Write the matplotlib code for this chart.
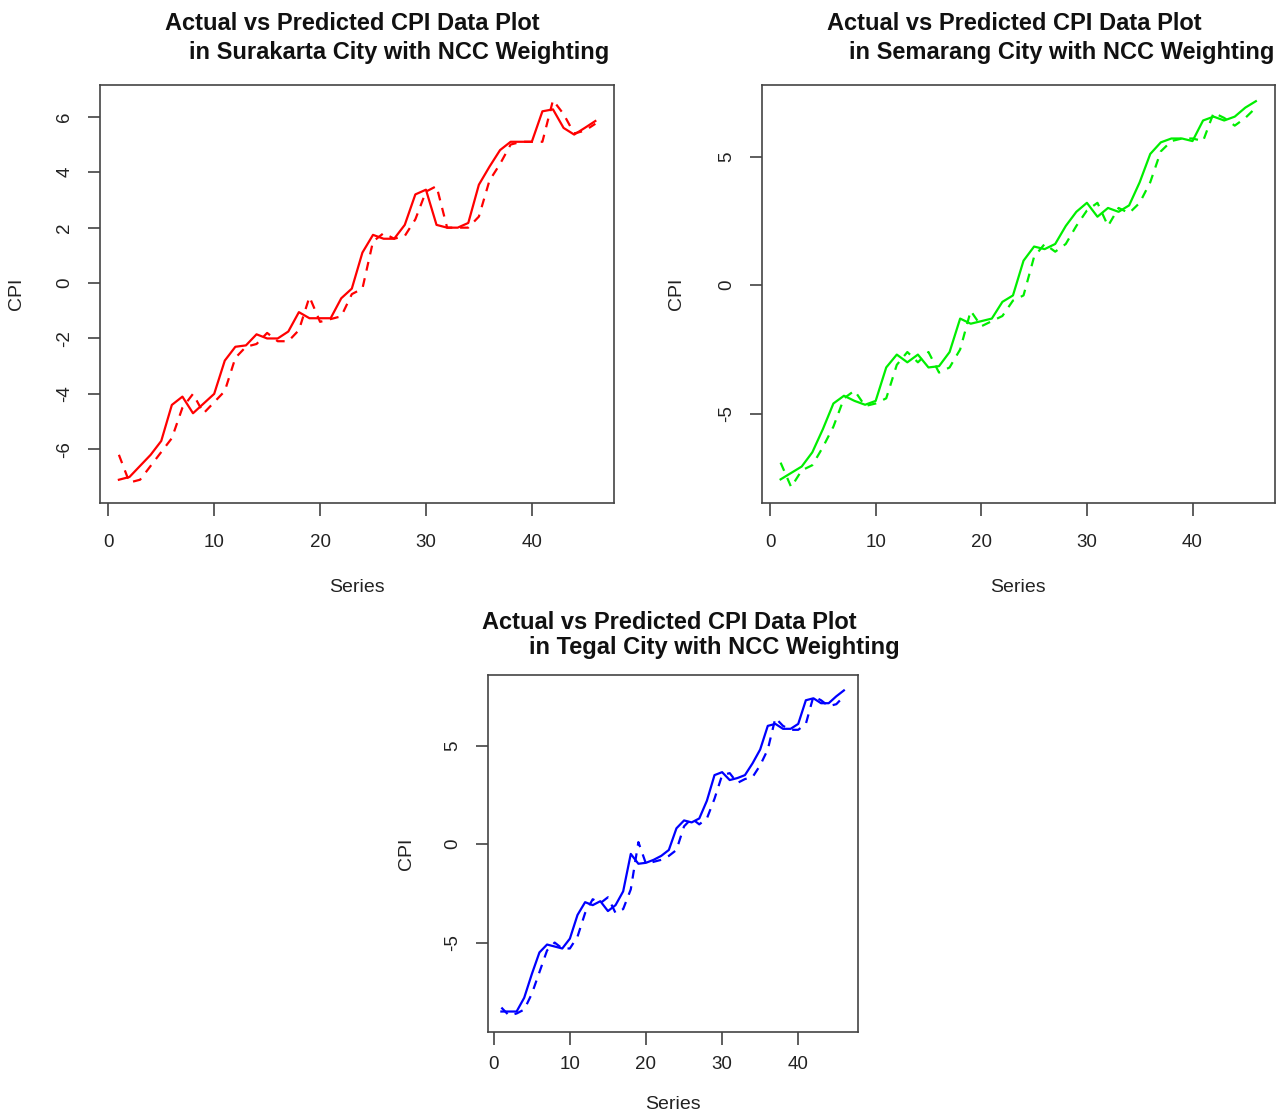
import matplotlib
matplotlib.use("Agg")
import matplotlib.pyplot as plt
import numpy as np

plt.rcParams["font.family"] = ["Liberation Sans", "DejaVu Sans"]

series = np.arange(1, 47)

surakarta_actual = [-7.1, -7.0, -6.6, -6.2, -5.7, -4.4, -4.1, -4.7, -4.35, -4.0,
                    -2.8, -2.3, -2.25, -1.85, -2.0, -2.0, -1.75, -1.05, -1.27, -1.27,
                    -1.27, -0.55, -0.2, 1.1, 1.74, 1.6, 1.6, 2.1, 3.2, 3.37,
                    2.1, 2.0, 2.0, 2.17, 3.55, 4.2, 4.8, 5.1, 5.1, 5.1,
                    6.2, 6.27, 5.6, 5.36, 5.6, 5.85]
surakarta_pred = [-6.2, -7.2, -7.1, -6.6, -6.1, -5.6, -4.5, -4.0, -4.7, -4.3,
                  -3.9, -2.7, -2.3, -2.2, -1.8, -2.1, -2.1, -1.7, -0.5, -1.4,
                  -1.3, -1.2, -0.4, -0.2, 1.5, 1.8, 1.6, 1.7, 2.3, 3.3,
                  3.5, 2.0, 2.0, 2.0, 2.4, 3.7, 4.3, 5.0, 5.1, 5.1,
                  5.1, 6.6, 6.1, 5.4, 5.5, 5.75]

semarang_actual = [-7.55, -7.3, -7.05, -6.5, -5.6, -4.6, -4.3, -4.5, -4.65, -4.5,
                   -3.2, -2.7, -3.0, -2.7, -3.2, -3.15, -2.6, -1.3, -1.5, -1.4,
                   -1.3, -0.65, -0.4, 0.95, 1.5, 1.4, 1.6, 2.3, 2.85, 3.2,
                   2.66, 3.0, 2.85, 3.1, 4.0, 5.1, 5.55, 5.7, 5.7, 5.6,
                   6.4, 6.55, 6.4, 6.55, 6.9, 7.15]
semarang_pred = [-6.9, -7.85, -7.2, -7.0, -6.3, -5.5, -4.4, -4.1, -4.7, -4.6,
                 -4.4, -3.1, -2.6, -3.0, -2.6, -3.4, -3.2, -2.5, -1.0, -1.6,
                 -1.4, -1.2, -0.6, -0.4, 1.1, 1.6, 1.3, 1.6, 2.3, 2.9,
                 3.2, 2.3, 3.0, 2.8, 3.2, 4.0, 5.2, 5.6, 5.7, 5.7,
                 5.6, 6.7, 6.5, 6.2, 6.5, 6.9]

tegal_actual = [-8.5, -8.5, -8.5, -7.8, -6.6, -5.5, -5.1, -5.2, -5.3, -4.8,
                -3.6, -2.95, -3.1, -2.9, -3.4, -3.1, -2.4, -0.5, -1.0, -0.95,
                -0.8, -0.6, -0.3, 0.8, 1.2, 1.1, 1.3, 2.2, 3.5, 3.65,
                3.25, 3.35, 3.5, 4.1, 4.8, 6.0, 6.1, 5.85, 5.85, 6.1,
                7.3, 7.4, 7.15, 7.15, 7.5, 7.8]
tegal_pred = [-8.3, -8.7, -8.6, -8.4, -7.6, -6.5, -5.4, -5.0, -5.3, -5.3,
              -4.7, -3.5, -2.8, -3.0, -2.7, -3.5, -3.3, -2.3, 0.1, -1.0,
              -0.9, -0.8, -0.6, -0.3, 0.9, 1.3, 1.0, 1.3, 2.3, 3.5,
              3.6, 3.1, 3.3, 3.4, 4.0, 4.8, 6.4, 6.0, 5.8, 5.8,
              6.1, 7.5, 7.3, 7.0, 7.1, 7.5]

PANELS = [
    # (city, actual, predicted, colour, axes rect, ylim, yticks, title x offsets, label dy, tick pad)
    ("Surakarta", surakarta_actual, surakarta_pred, "#ff0000",
     [0.078, 0.547, 0.402, 0.3765], (-7.95, 7.15), [-6, -4, -2, 0, 2, 4, 6],
     (0.490, 0.581), -0.146, 13),
    ("Semarang", semarang_actual, semarang_pred, "#00ee00",
     [0.595, 0.547, 0.401, 0.3765], (-8.48, 7.78), [-5, 0, 5],
     (0.493, 0.584), -0.150, 13),
    ("Tegal", tegal_actual, tegal_pred, "#0000ff",
     [0.381, 0.0711, 0.289, 0.3213], (-9.54, 8.58), [-5, 0, 5],
     (0.490, 0.612), -0.197, 8),
]

fig = plt.figure(figsize=(12.8, 11.11), dpi=100)

for city, actual, pred, color, rect, ylim, yticks, tx, ylab_x, xpad in PANELS:
    ax = fig.add_axes(rect)
    ax.plot(series, actual, color=color, lw=1.6)
    ax.plot(series, pred, color=color, lw=1.6, dashes=(4, 3.5))
    ax.set_xlim(-0.8, 47.8)
    ax.set_ylim(*ylim)
    ax.set_xticks([0, 10, 20, 30, 40])
    ax.set_yticks(yticks)
    ax.set_yticklabels([str(v) for v in yticks], rotation=90, va="center")
    ax.tick_params(axis="both", direction="out", length=9, width=1.1,
                   color="#333333", labelsize=13.5, labelcolor="#222222")
    ax.tick_params(axis="x", pad=xpad)
    ax.tick_params(axis="y", pad=10)
    for sp in ax.spines.values():
        sp.set_color("#444444")
        sp.set_linewidth(1.2)

    ax.set_xlabel("Series", fontsize=14, color="#222222")
    ax.xaxis.set_label_coords(0.5, -0.18)
    ax.set_ylabel("CPI", fontsize=14, color="#222222")
    ax.yaxis.set_label_coords(ylab_x, 0.5)

    ax.text(tx[0], 1.146, "Actual vs Predicted CPI Data Plot", transform=ax.transAxes,
            ha="center", va="center", fontsize=17, fontweight="bold", color="#111111")
    ax.text(tx[1], 1.078, f"in {city} City with NCC Weighting", transform=ax.transAxes,
            ha="center", va="center", fontsize=17, fontweight="bold", color="#111111")

fig.savefig("out.png", dpi=100)
